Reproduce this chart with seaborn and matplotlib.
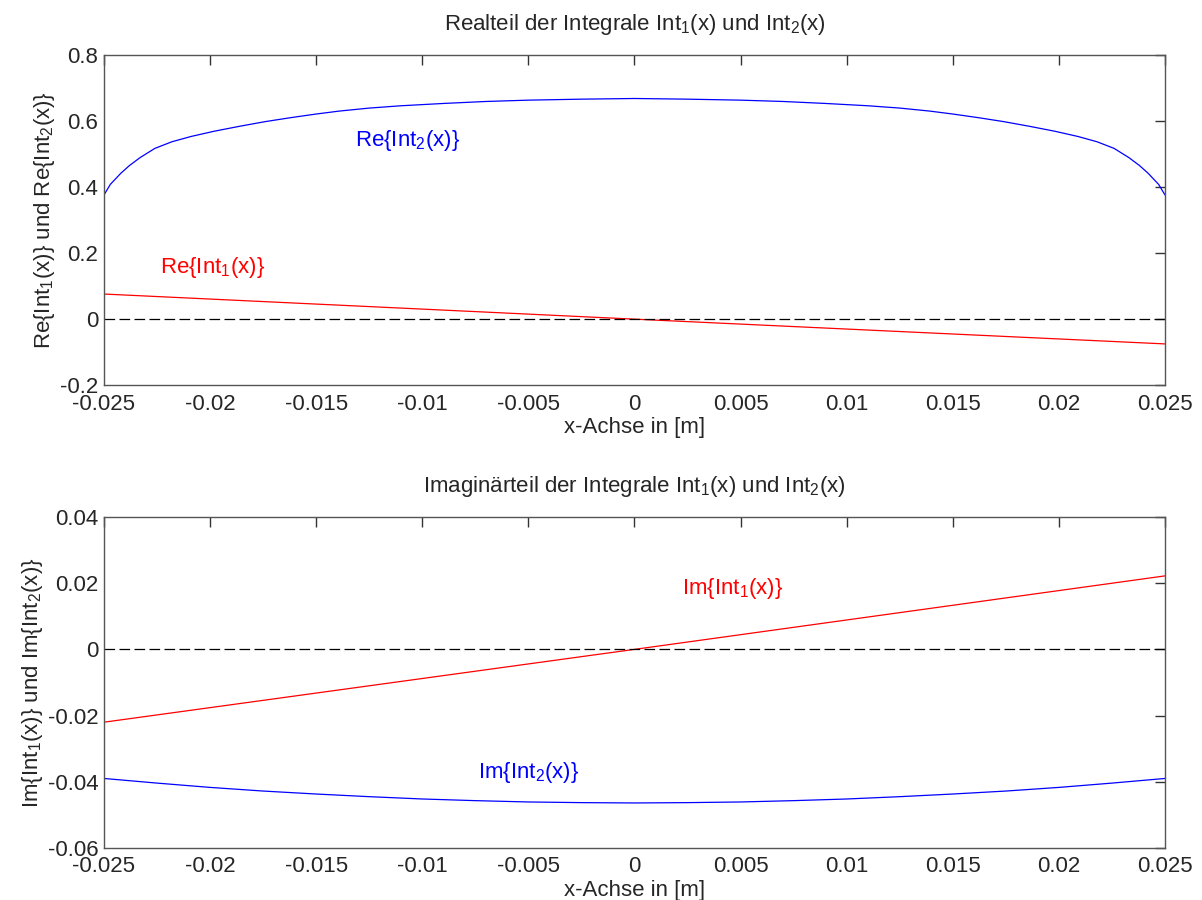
import numpy as np
import pandas as pd
import matplotlib
matplotlib.use("Agg")
import matplotlib.pyplot as plt
import seaborn as sns

# values
x_re2 = [-0.025, -0.0247, -0.0242, -0.0238, -0.0233, -0.0226, -0.0218, -0.0209, -0.0198,
         -0.0186, -0.0174, -0.0162, -0.015, -0.0139, -0.0125, -0.011, -0.009, -0.007,
         -0.005, -0.0025, 0.0, 0.0025, 0.005, 0.007, 0.009, 0.011, 0.0125, 0.0139,
         0.015, 0.0162, 0.0174, 0.0186, 0.0198, 0.0209, 0.0218, 0.0226, 0.0233, 0.0238,
         0.0242, 0.0247, 0.025]
re_int2 = [0.376, 0.408, 0.442, 0.465, 0.489, 0.517, 0.537, 0.553, 0.569,
           0.584, 0.598, 0.610, 0.621, 0.630, 0.639, 0.646, 0.653, 0.659,
           0.663, 0.666, 0.668, 0.666, 0.663, 0.659, 0.653, 0.646, 0.639, 0.630,
           0.621, 0.610, 0.598, 0.584, 0.569, 0.553, 0.537, 0.517, 0.489, 0.465,
           0.442, 0.408, 0.376]
x_re1 = [-0.025, 0.0, 0.025]
re_int1 = [0.076, 0.0, -0.075]

x_im1 = [-0.025, 0.0, 0.025]
im_int1 = [-0.022, 0.0, 0.0222]
x_im2 = [-0.025, -0.0225, -0.02, -0.0175, -0.015, -0.0125, -0.01, -0.0075, -0.005, -0.0025, 0.0,
         0.0025, 0.005, 0.0075, 0.01, 0.0125, 0.015, 0.0175, 0.02, 0.0225, 0.025]
im_int2 = [-0.0390, -0.0404, -0.0417, -0.0428, -0.0437, -0.0445, -0.0452, -0.0457, -0.0461, -0.0463, -0.0464,
           -0.0463, -0.0461, -0.0457, -0.0452, -0.0445, -0.0437, -0.0428, -0.0417, -0.0404, -0.0390]

x_ticks = [-0.025, -0.02, -0.015, -0.01, -0.005, 0, 0.005, 0.01, 0.015, 0.02, 0.025]
x_ticklabels = ["-0.025", "-0.02", "-0.015", "-0.01", "-0.005", "0", "0.005", "0.01", "0.015", "0.02", "0.025"]
re_yticks = [-0.2, 0, 0.2, 0.4, 0.6, 0.8]
re_yticklabels = ["-0.2", "0", "0.2", "0.4", "0.6", "0.8"]
im_yticks = [-0.06, -0.04, -0.02, 0, 0.02, 0.04]
im_yticklabels = ["-0.06", "-0.04", "-0.02", "0", "0.02", "0.04"]

sns.set_style("white")
plt.rcParams["font.family"] = ["Liberation Sans", "DejaVu Sans"]
plt.rcParams["mathtext.fontset"] = "custom"
plt.rcParams["mathtext.rm"] = "Liberation Sans"
plt.rcParams["mathtext.it"] = "Liberation Sans"
plt.rcParams["mathtext.default"] = "rm"

fig = plt.figure(figsize=(12.02, 9), dpi=100)
ax1 = fig.add_axes([0.0865, 0.572, 0.8827, 0.367])
ax2 = fig.add_axes([0.0865, 0.0578, 0.8827, 0.3678])

blue = "#0000ff"
red = "#ff0000"
fs = 16


def style_axes(ax, yticks, yticklabels, ylim):
    ax.set_xlim(-0.025, 0.025)
    ax.set_ylim(*ylim)
    ax.set_xticks(x_ticks)
    ax.set_xticklabels(x_ticklabels)
    ax.set_yticks(yticks)
    ax.set_yticklabels(yticklabels)
    ax.tick_params(direction="in", length=7, width=1, color="#333333",
                   top=True, right=True, labelsize=fs, pad=4)
    ax.tick_params(axis="x", pad=6)
    for s in ax.spines.values():
        s.set_color("#555555")
        s.set_linewidth(1)
        s.set_visible(True)
    ax.grid(False)


sns.lineplot(x=x_re2, y=re_int2, ax=ax1, color=blue, lw=0.9)
sns.lineplot(x=x_re1, y=re_int1, ax=ax1, color=red, lw=0.9)
ax1.axhline(0, color="black", lw=0.9, dashes=(8.5, 3.5))
style_axes(ax1, re_yticks, re_yticklabels, (-0.2, 0.8))
ax1.set_title("Realteil der Integrale Int$_1$(x) und Int$_2$(x)", fontsize=16, pad=18)
ax1.set_xlabel("x-Achse in [m]", fontsize=fs, labelpad=2)
ax1.set_ylabel("Re{Int$_1$(x)} und Re{Int$_2$(x)}", fontsize=fs, labelpad=2)
ax1.text(-0.0107, 0.542, "Re{Int$_2$(x)}", color=blue, fontsize=fs, ha="center", va="center")
ax1.text(-0.0199, 0.155, "Re{Int$_1$(x)}", color=red, fontsize=fs, ha="center", va="center")

sns.lineplot(x=x_im1, y=im_int1, ax=ax2, color=red, lw=0.9)
sns.lineplot(x=x_im2, y=im_int2, ax=ax2, color=blue, lw=0.9)
ax2.axhline(0, color="black", lw=0.9, dashes=(8.5, 3.5))
style_axes(ax2, im_yticks, im_yticklabels, (-0.06, 0.04))
ax2.set_title("Imaginärteil der Integrale Int$_1$(x) und Int$_2$(x)", fontsize=16, pad=18)
ax2.set_xlabel("x-Achse in [m]", fontsize=fs, labelpad=2)
ax2.set_ylabel("Im{Int$_1$(x)} und Im{Int$_2$(x)}", fontsize=fs, labelpad=2)
ax2.text(0.00464, 0.0185, "Im{Int$_1$(x)}", color=red, fontsize=fs, ha="center", va="center")
ax2.text(-0.005, -0.0373, "Im{Int$_2$(x)}", color=blue, fontsize=fs, ha="center", va="center")

fig.savefig("out.png", dpi=100)
